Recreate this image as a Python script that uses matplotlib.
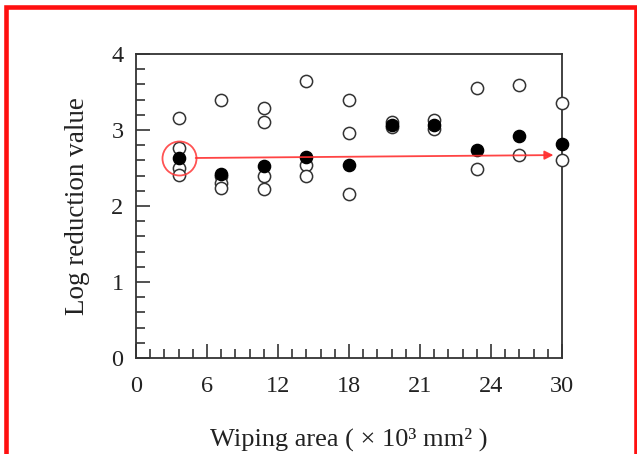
import matplotlib
matplotlib.use("Agg")
import matplotlib.pyplot as plt
from matplotlib.patches import Rectangle

# ---- data ----
area_positions = [3, 6, 9, 12, 15, 18, 21, 24, 27, 30]
open_values = [
    [3.16, 2.76, 2.50, 2.41],
    [3.39, 2.40, 2.30, 2.24],
    [3.29, 3.10, 2.39, 2.22],
    [3.64, 2.54, 2.39],
    [3.39, 2.96, 2.16],
    [3.10, 3.04],
    [3.13, 3.01],
    [3.55, 2.49],
    [3.59, 2.67],
    [3.35, 2.61],
]
mean_values = [2.63, 2.42, 2.52, 2.64, 2.54, 3.07, 3.07, 2.74, 2.92, 2.82]
trend_end_x = 29.4
trend_end_y = 2.67
xtick_positions = [0, 5, 10, 15, 20, 25, 30]
xtick_labels = ["0", "6", "12", "18", "21", "24", "30"]
ytick_positions = [0, 1, 2, 3, 4]

plt.rcParams['font.family'] = ['Liberation Serif', 'DejaVu Serif']
W, H = 637, 454
fig = plt.figure(figsize=(W / 100, H / 100), dpi=100)
ax = fig.add_axes([136 / W, (H - 358) / H, (562 - 136) / W, (358 - 54) / H])

# red border
fig.patches.append(Rectangle((5.5 / W, -0.1), (635.5 - 5.5) / W, 1.1 - 7 / H,
                             transform=fig.transFigure, fill=False,
                             edgecolor='#ff1010', linewidth=3.3, zorder=10))

edge = '#333333'
for x, vals in zip(area_positions, open_values):
    ax.plot([x] * len(vals), vals, linestyle='none', marker='o', markersize=8.8,
            markerfacecolor='white', markeredgecolor=edge, markeredgewidth=1.1,
            clip_on=False, zorder=3)
ax.plot(area_positions, mean_values, linestyle='none', marker='o', markersize=8.8,
        markerfacecolor='black', markeredgecolor='black', markeredgewidth=1.0,
        clip_on=False, zorder=4)

# red annotation circle and arrow
ax.plot([area_positions[0]], [mean_values[0]], linestyle='none', marker='o',
        markersize=24.5, markerfacecolor='none', markeredgecolor='#ff4040',
        markeredgewidth=1.3, zorder=5, alpha=0.9)
ax.annotate('', xy=(trend_end_x, trend_end_y),
            xytext=(area_positions[0], mean_values[0]),
            arrowprops=dict(arrowstyle='-|>', color='#ff3030', lw=1.3,
                            mutation_scale=13, shrinkA=12.3, shrinkB=0,
                            alpha=0.9),
            zorder=5)

ax.set_xlim(0, 30)
ax.set_ylim(0, 4)
ax.set_xticks(xtick_positions)
ax.set_xticklabels(xtick_labels)
ax.set_yticks(ytick_positions)
ax.set_xticks(range(0, 31), minor=True)
ax.set_yticks([i * 0.2 for i in range(21)], minor=True)
ax.tick_params(which='both', direction='in', colors=edge, labelcolor='#222222',
               labelsize=17.5, width=1.2)
ax.tick_params(which='major', length=10)
ax.tick_params(which='minor', length=6.5)
ax.tick_params(axis='x', which='major', pad=13)
ax.tick_params(axis='y', which='major', pad=9)
for s in ax.spines.values():
    s.set_color(edge)
    s.set_linewidth(1.3)

ax.set_xlabel('Wiping area ( \u00d7 10\u00b3 mm\u00b2 )', fontsize=19, color='#222222', labelpad=22)
ax.set_ylabel('Log reduction value', fontsize=19.5, color='#222222', labelpad=15)

fig.savefig('out.png', dpi=100)
